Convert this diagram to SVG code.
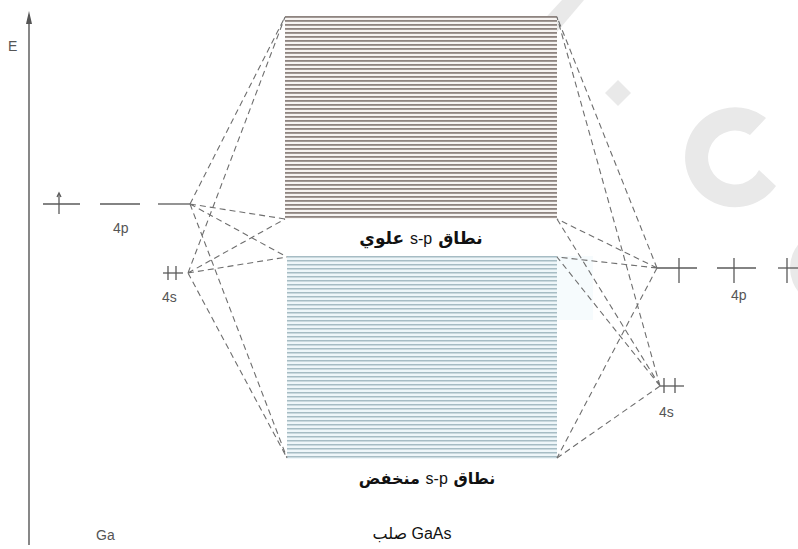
<svg xmlns="http://www.w3.org/2000/svg" width="798" height="549" viewBox="0 0 798 549">
<style>
.lvl{stroke:#5a5a5a;stroke-width:1.3;fill:none}
.dash{stroke:#6e6e6e;stroke-width:1.1;fill:none;stroke-dasharray:6 4}
.lbl{font-family:"Liberation Sans",Arial,sans-serif;font-size:14px;fill:#555}
.ar{font-family:"DejaVu Sans","Noto Sans",sans-serif;fill:#111;direction:rtl}
.sp{font-family:"Liberation Sans",Arial,sans-serif;font-weight:normal}
.wm{fill:#e9e9e9}
</style>
<defs>
<pattern id="pUp" width="8" height="4" patternUnits="userSpaceOnUse">
<rect width="8" height="4" fill="#f7f4f2"/>
<rect y="0" width="8" height="1.8" fill="#8e8480"/>
</pattern>
<pattern id="pLo" width="8" height="4" patternUnits="userSpaceOnUse">
<rect width="8" height="4" fill="#eef6f9"/>
<rect y="0" width="8" height="1.5" fill="#a6bcc4"/>
</pattern>
</defs>
<rect width="798" height="549" fill="#fff"/>
<!-- watermark -->
<g id="watermark">
<polygon class="wm" points="562,0 584,0 556,33 538,26"/>
<polygon class="wm" points="618,80 631,93 618,106 605,93"/>
<path class="wm" d="M766,118 A50,50 0 1 0 776,186 L759,170 A27,27 0 1 1 750,135 Z"/>
<circle class="wm" cx="828" cy="268" r="38"/>
</g>
<!-- axis -->
<g id="axis">
<line x1="29" y1="545" x2="29" y2="20" stroke="#555" stroke-width="1.4"/>
<polygon points="29,11 32,24 26,24" fill="#555"/>
<text class="lbl" x="8" y="51" style="font-size:14px">E</text>
</g>
<!-- bands -->
<g id="upperBand">
<rect x="285" y="16" width="272" height="203" fill="url(#pUp)"/>
<text class="ar" x="421" y="244" text-anchor="middle" font-weight="bold" style="font-size:17px">نطاق <tspan class="sp" style="font-size:16px">s-p</tspan> علوي</text>
</g>
<g id="lowerBand">
<rect x="557" y="256" width="36" height="64" fill="#f6fbfd"/>
<rect x="287" y="256" width="270" height="203" fill="url(#pLo)"/>
<text class="ar" x="427" y="484" text-anchor="middle" font-weight="bold" style="font-size:16px">نطاق <tspan class="sp" style="font-size:16px">s-p</tspan> منخفض</text>
</g>
<!-- Ga levels -->
<g id="Ga4p">
<line class="lvl" x1="43" y1="204" x2="80" y2="204"/>
<line class="lvl" x1="59" y1="214" x2="59" y2="194"/>
<path d="M57,197 L59,193 L61,197" class="lvl" stroke-width="1"/>
<line class="lvl" x1="100" y1="204" x2="140" y2="204"/>
<line class="lvl" x1="158" y1="204" x2="190" y2="204"/>
<text class="lbl" x="113" y="233">4p</text>
</g>
<g id="Ga4s">
<line class="lvl" x1="163" y1="273" x2="183" y2="273"/>
<line class="lvl" x1="168" y1="266" x2="168" y2="280"/>
<line class="lvl" x1="176" y1="266" x2="176" y2="280"/>
<text class="lbl" x="162" y="302">4s</text>
</g>
<g id="GaLabel"><text class="lbl" x="96" y="540">Ga</text></g>
<!-- As levels -->
<g id="As4p">
<line class="lvl" x1="657" y1="268" x2="697" y2="268"/>
<line class="lvl" x1="679" y1="258" x2="679" y2="283"/>
<line class="lvl" x1="717" y1="268" x2="756" y2="268"/>
<line class="lvl" x1="734" y1="258" x2="734" y2="283"/>
<line class="lvl" x1="778" y1="268" x2="798" y2="268"/>
<line class="lvl" x1="787" y1="258" x2="787" y2="283"/>
<text class="lbl" x="731" y="300">4p</text>
</g>
<g id="As4s">
<line class="lvl" x1="660" y1="386" x2="684" y2="386"/>
<line class="lvl" x1="664" y1="378" x2="664" y2="393"/>
<line class="lvl" x1="675" y1="378" x2="675" y2="393"/>
<text class="lbl" x="659" y="417">4s</text>
</g>
<g id="GaAsLabel"><text class="ar" x="412" y="539" text-anchor="middle" style="font-size:16px;font-family:'Liberation Sans','DejaVu Sans',sans-serif">GaAs صلب</text></g>
<!-- connectors -->
<g id="connectors">
<path class="dash" d="M190,204 L285,17 M190,204 L285,219 M190,204 L287,257 M190,204 L287,458"/>
<path class="dash" d="M188,273 L285,17 M188,273 L285,219 M188,273 L287,257 M188,273 L287,458"/>
<path class="dash" d="M657,268 L557,17 M657,268 L557,219 M657,268 L557,257 M657,268 L557,458"/>
<path class="dash" d="M660,386 L557,17 M660,386 L557,219 M660,386 L557,257 M660,386 L557,458"/>
</g>
</svg>
